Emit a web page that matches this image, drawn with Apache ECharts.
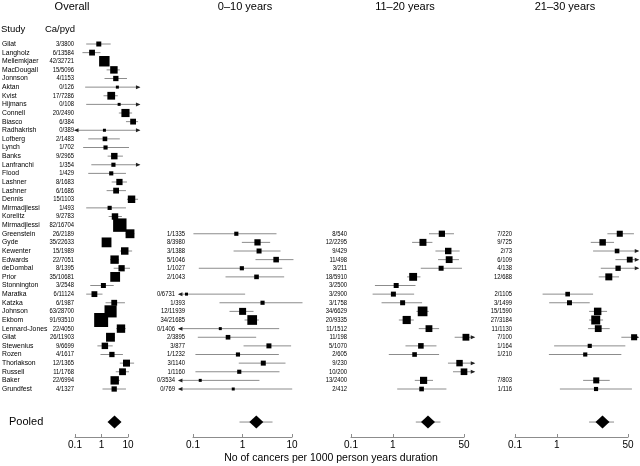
<!DOCTYPE html>
<html><head><meta charset="utf-8">
<script src="https://cdn.jsdelivr.net/npm/echarts@6/dist/echarts.min.js"></script>
<style>html,body{margin:0;padding:0;background:#fff}#c{width:640px;height:466px}</style>
</head><body><div id="c"></div>
<script>
// ---------- DATA ----------
const studies = ['Gilat','Langholz','Mellemkjaer','MacDougall','Jonnson','Aktan','Kvist','Hijmans','Connell','Biasco','Radhakrish','Lofberg','Lynch','Banks','Lanfranchi','Flood','Lashner','Lashner','Dennis','Mirmadjlessi','Korelitz','Mirmadjlessi','Greenstein','Gyde','Kewenter','Edwards','deDombal','Prior','Stonnington','Maratka','Katzka','Johnson','Ekbom','Lennard-Jones','Gilat','Stewenius','Rozen','Thorlakson','Russell','Baker','Grundfest'];
const overallCaPyd = ['3/3800','6/13584','42/32721','15/5096','4/1153','0/126','17/7286','0/108','20/2490','6/384','0/389','2/1483','1/702','9/2965','1/354','1/429','8/1683','6/1686','15/1103','1/493','9/2783','82/16704','26/2189','35/22633','15/1989','22/7051','8/1395','35/10681','3/2548','6/11124','6/1987','63/28700','91/93510','22/4050','26/11903','9/6699','4/1617','12/1365','11/1768','22/6994','4/1327'];
const overallCases = [3,6,42,15,4,0,17,0,20,6,0,2,1,9,1,1,8,6,15,1,9,82,26,35,15,22,8,35,3,6,6,63,91,22,26,9,4,12,11,22,4];
const overallRate = [0.79,0.44,1.28,2.94,3.47,3.97,2.33,4.63,8.03,15.6,1.29,1.35,1.42,3.04,2.82,2.33,4.75,3.56,13.6,2.03,3.23,4.91,11.9,1.55,7.54,3.12,5.73,3.28,1.18,0.54,3.02,2.2,0.97,5.43,2.18,1.34,2.47,8.79,6.22,3.15,3.01];
// null = interval runs off the panel (drawn as an arrow)
const overallLo = [0.265,0.191,0.95,1.56,1.30,0.242,1.19,0.265,4.51,8.38,null,0.316,0.203,1.70,0.413,0.316,2.42,1.56,9.15,0.265,1.86,3.9,8.1,1.15,4.92,2.1,2.89,2.3,0.377,0.265,1.42,1.7,0.8,3.6,1.5,0.70,0.915,4.92,3.45,2.42,1.09];
const overallHi = [2.22,0.915,1.75,4.92,9.15,null,4.12,null,14.3,24,null,4.92,10.9,6.43,null,8.38,9.15,8.38,24,8.38,5.88,6.1,17.5,2.1,14.3,4.6,11.9,4.6,2.89,1.09,7.67,2.8,1.2,8.2,3.2,2.65,6.43,17.0,10.9,4.92,8.38];

// Duration panels cover the studies Greenstein ... Grundfest (null = not reported)
const firstDurationRow = 22;
const y010Label = ['1/1335','8/3980','3/1388','5/1046','1/1027','2/1043',null,'0/6731','1/393','12/11939','34/21685','0/1406','2/3895','3/877','1/1232','3/1140','1/1160','0/3534','0/769'];
const y010Cases = [1,8,3,5,1,2,null,0,1,12,34,0,2,3,1,3,1,0,0];
const y010Rate = [0.75,2.01,2.16,4.78,0.97,1.92,null,0.074,2.54,1.005,1.57,0.356,0.51,3.42,0.81,2.63,0.86,0.14,0.65];
const y010Lo = [0.102,0.97,0.66,1.83,0.131,0.454,null,null,0.343,0.546,1.1,null,0.125,1.05,0.112,0.84,0.112,null,null];
const y010Hi = [4.86,3.62,5.86,10.7,6.34,6.95,null,1.13,16.3,1.67,2.14,5.51,1.89,9.6,5.42,7.39,5.59,2.2,10.1];

const y1120Label = ['8/540','12/2295','9/429','11/498','3/211','18/5910','3/2500','3/2900','3/1758','34/6629','20/9335','11/1512','11/198','5/1070','2/605','9/230','10/200','13/2400','2/412'];
const y1120Cases = [8,12,9,11,3,18,3,3,3,34,20,11,11,5,2,9,10,13,2];
const y1120Rate = [14.8,5.23,21,22.1,14.2,3.05,1.2,1.03,1.71,5.13,2.14,7.28,55.6,4.67,3.3,39.1,50,5.42,4.85];
const y1120Lo = [7.3,2.88,10.4,12,4.64,2.19,0.373,0.328,0.537,3.66,1.39,4.16,29.9,2.0,0.80,20.7,27.3,3.34,1.27];
const y1120Hi = [28.8,8.8,39.4,37.9,44.7,4.56,3.47,3.22,4.99,7.2,3.16,12.7,null,11,12.7,null,null,9.1,19];

const y2130Label = ['7/220','9/725','2/73','6/109','4/138','12/688',null,'2/1105','3/1499','15/1590','27/3184','11/1130','7/100','1/164','1/210',null,null,'7/803','1/116'];
const y2130Cases = [7,9,2,6,4,12,null,2,3,15,27,11,7,1,1,null,null,7,1];
const y2130Rate = [31.8,12.4,27.4,55,29,17.4,null,1.81,2.0,9.43,8.48,9.73,70,6.1,4.76,null,null,8.72,8.62];
const y2130Lo = [16.1,6.45,7.33,25,11.2,10,null,0.456,0.656,5.88,5.88,5.57,34.7,0.86,0.645,null,null,4.24,1.18];
const y2130Hi = [69.3,23.2,null,null,null,30.5,null,7.33,6.1,15.8,12.7,18.3,null,43.2,34.7,null,null,18.3,62];

const pooledRate = [3.1, 1.9, 6.9, 12.3];
const pooledLo = [2.6, 0.87, 3.53, 5.88];
const pooledHi = [3.7, 4.04, 13.7, 23.2];

const panelTitles = ['Overall','0\u201310 years','11\u201320 years','21\u201330 years'];
const tickValues = [[0.1,1,10],[0.1,1,10],[0.1,1,50],[0.1,1,50]];
const tickLabels = [['0.1','1','10'],['0.1','1','10'],['0.1','1','50'],['0.1','1','50']];
const axisTitle = 'No of cancers per 1000 person years duration';

// ---------- LAYOUT ----------
const FONT = '"Liberation Sans", Arial, Helvetica, sans-serif';
const rowTop = 44, rowStep = 8.625, axisY = 437;
const yMax = (axisY - rowTop) / rowStep;
const pooledRow = 43.83;
const grids = [
  {left:75, width:53}, {left:193, width:99}, {left:351, width:113}, {left:515, width:113}
];
const panelLimits = [[0.1, 27], [0.052, 20], [0.05, 88], [0.05, 88]];
const labelRight = [null, 185, 347, 512];
const ciColor = '#8c8c8c', axisColor = '#8c8c8c';
const numScale = 0.84;

function sq(c){ return 3 + 1.15*Math.sqrt(c); }

function numText(t, x, y){
  return {type:'text', x:x, y:y, scaleX:numScale, scaleY:1,
    style:{text:t, x:0, y:0, align:'right', verticalAlign:'middle', font:'7px '+FONT, fill:'#000'}};
}

function forestSeries(g, rows, labels, cases, rate, lo, hi, isOverall){
  const data = [];
  rows.forEach((r,i)=>{ if(rate[i]!=null) data.push({value:[rate[i], r], idx:i}); });
  const lim = panelLimits[g];
  return {
    type:'custom', xAxisIndex:g, yAxisIndex:g, clip:false, silent:true, z:5,
    data,
    renderItem(params, api){
      const i = data[params.dataIndex].idx;
      const row = rows[i];
      const p = api.coord([rate[i], row]);
      const y = p[1];
      const x0 = api.coord([lo[i]==null ? lim[0] : lo[i], row])[0];
      const x1 = api.coord([hi[i]==null ? lim[1] : hi[i], row])[0];
      const ch = [];
      ch.push({type:'line', shape:{x1:x0, y1:y, x2:x1, y2:y}, style:{stroke:ciColor, lineWidth:1}});
      if(lo[i]==null) ch.push({type:'polygon', shape:{points:[[x0-1,y],[x0+3.5,y-2],[x0+3.5,y+2]]}, style:{fill:'#222'}});
      if(hi[i]==null) ch.push({type:'polygon', shape:{points:[[x1+1,y],[x1-3.5,y-2],[x1-3.5,y+2]]}, style:{fill:'#222'}});
      const s = sq(cases[i]);
      ch.push({type:'rect', shape:{x:p[0]-s/2, y:y-s/2, width:s, height:s}, style:{fill:'#000'}});
      if(isOverall){
        ch.push({type:'text', style:{text:studies[i], x:2, y:y, align:'left', verticalAlign:'middle', font:'6.8px '+FONT, fill:'#000'}});
        ch.push(numText(labels[i], 74, y));
      } else {
        const lx = Math.min(labelRight[g], x0 - 4);
        ch.push(numText(labels[i], lx, y));
      }
      return {type:'group', children:ch};
    }
  };
}

function pooledSeries(g){
  return {
    type:'custom', xAxisIndex:g, yAxisIndex:g, clip:false, silent:true, z:6,
    data:[[pooledRate[g], pooledRow]],
    renderItem(params, api){
      const p = api.coord([pooledRate[g], pooledRow]);
      const a = api.coord([pooledLo[g], pooledRow])[0];
      const b = api.coord([pooledHi[g], pooledRow])[0];
      const w = 7, h = 6.5;
      return {type:'group', children:[
        {type:'line', shape:{x1:a, y1:p[1], x2:b, y2:p[1]}, style:{stroke:ciColor, lineWidth:1}},
        {type:'polygon', shape:{points:[[p[0]-w,p[1]],[p[0],p[1]-h],[p[0]+w,p[1]],[p[0],p[1]+h]]}, style:{fill:'#000'}}
      ]};
    }
  };
}

const overallRows = studies.map((_,i)=>i);
const durRows = y010Label.map((_,i)=>firstDurationRow+i);

const option = {
  animation:false,
  backgroundColor:'#fff',
  textStyle:{fontFamily:FONT},
  grid: grids.map(gr=>({left:gr.left, width:gr.width, top:rowTop, height:axisY-rowTop, containLabel:false})),
  xAxis: grids.map((gr,g)=>({
    type:'log', logBase:10, gridIndex:g, position:'bottom', min:tickValues[g][0], max:tickValues[g][2],
    axisLine:{show:true, onZero:false, lineStyle:{color:axisColor, width:1}},
    axisTick:{show:true, inside:true, length:3, lineStyle:{color:axisColor}, customValues:tickValues[g]},
    minorTick:{show:false},
    splitLine:{show:false},
    axisLabel:{show:true, customValues:tickValues[g], margin:3, fontSize:10, color:'#000', fontFamily:FONT,
      formatter:(v)=>{ const k = tickValues[g].findIndex(t=>Math.abs(Math.log10(t)-Math.log10(v))<1e-6); return k>=0 ? tickLabels[g][k] : ''; }}
  })),
  yAxis: grids.map((gr,g)=>({type:'value', gridIndex:g, min:0, max:yMax, inverse:true, show:false})),
  graphic:[
    ...panelTitles.map((t,g)=>({type:'text', x:[72,245,405,565][g], y:7,
      style:{text:t, align:'center', verticalAlign:'middle', font:'11px '+FONT, fill:'#000'}})),
    {type:'text', x:1, y:29, style:{text:'Study', align:'left', verticalAlign:'middle', font:'9.5px '+FONT, fill:'#000'}},
    {type:'text', x:75, y:29, style:{text:'Ca/pyd', align:'right', verticalAlign:'middle', font:'9.5px '+FONT, fill:'#000'}},
    {type:'text', x:9, y:422, style:{text:'Pooled', align:'left', verticalAlign:'middle', font:'11px '+FONT, fill:'#000'}},
    {type:'text', x:331, y:458, style:{text:axisTitle, align:'center', verticalAlign:'middle', font:'10.5px '+FONT, fill:'#000'}}
  ],
  series:[
    forestSeries(0, overallRows, overallCaPyd, overallCases, overallRate, overallLo, overallHi, true),
    forestSeries(1, durRows, y010Label, y010Cases, y010Rate, y010Lo, y010Hi, false),
    forestSeries(2, durRows, y1120Label, y1120Cases, y1120Rate, y1120Lo, y1120Hi, false),
    forestSeries(3, durRows, y2130Label, y2130Cases, y2130Rate, y2130Lo, y2130Hi, false),
    pooledSeries(0), pooledSeries(1), pooledSeries(2), pooledSeries(3)
  ]
};
const chart = echarts.init(document.getElementById('c'), null, {renderer:'canvas'});
chart.setOption(option);
</script>
</body></html>
